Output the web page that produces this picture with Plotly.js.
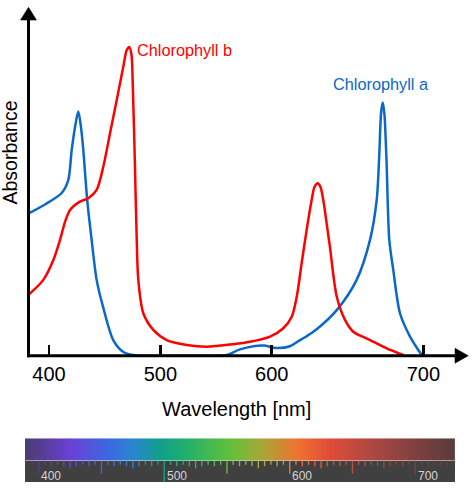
<!DOCTYPE html>
<html>
<head>
<meta charset="utf-8">
<script src="https://cdn.plot.ly/plotly-3.0.1.min.js"></script>
<style>html,body{margin:0;padding:0;background:#fff;}#chart{width:473px;height:488px;}</style>
</head>
<body>
<div id="chart"></div>
<script>
// ---- Data ----
// Chlorophyll a absorbance (wavelength in nm, relative absorbance)
var chlAWl = [381.6, 396.4, 411.4, 417.3, 420.4, 423.4, 426.3, 428.7, 430.8, 434.3, 438.3, 442.8, 448.5, 457.7, 466.5, 475.4, 490.7, 520, 545,
              559.6, 571.5, 585.0, 593.0, 604.5, 616.4, 624.0, 631.4, 640.4, 658.4, 676.3, 688.3, 694.3, 696.4, 698.3, 699.7, 701.3, 702.4, 703.3, 705.6, 709.2, 715.2, 724.2, 734.7];
var chlAAbs = [0.409, 0.435, 0.468, 0.505, 0.592, 0.658, 0.702, 0.658, 0.592, 0.448, 0.333, 0.218, 0.141, 0.045, 0.0115, 0.002, 0.0, 0.0, 0.0,
               0.002, 0.018, 0.028, 0.029, 0.022, 0.027, 0.042, 0.056, 0.076, 0.131, 0.218, 0.333, 0.448, 0.563, 0.701, 0.728, 0.692, 0.620, 0.544, 0.333, 0.246, 0.122, 0.055, 0.002];
// Chlorophyll b absorbance
var chlBWl = [381.6, 394.9, 403.9, 409.9, 414.4, 418.9, 427.8, 435.3, 442.8, 448.8, 454.8, 460.8, 466.7, 469.8, 472.1, 474.1, 475.2, 477.2, 478.8, 480.2, 484.7, 493.7, 505.7, 523.7, 541.6, 565.5, 580.5, 598.5, 610.4, 618.0, 622.5, 626.9, 631.4, 635.9, 638.4, 641.3, 643.8, 646.3, 650.8, 652.3, 658.4, 665.8, 673.3, 688.3, 703.3, 718.2];
var chlBAbs = [0.175, 0.218, 0.275, 0.333, 0.385, 0.419, 0.443, 0.453, 0.477, 0.544, 0.640, 0.735, 0.831, 0.879, 0.888, 0.865, 0.784, 0.544, 0.333, 0.218, 0.122, 0.074, 0.045, 0.031, 0.026, 0.033, 0.040, 0.055, 0.079, 0.112, 0.170, 0.266, 0.362, 0.448, 0.485, 0.496, 0.485, 0.448, 0.347, 0.313, 0.170, 0.103, 0.069, 0.045, 0.021, 0.002];

// Main axis tick labels (as printed in the picture) and where they sit on the axis
var axisTickText = ['400', '500', '600', '700'];
var axisTickVals = [400, 500, 600, 736.2];

// Visible spectrum strip
var specWl = [389, 425, 457, 475, 497, 518, 553, 579, 608, 632, 664, 701, 732];
var specColor = ['#4a3d6c', '#6a40d6', '#3a6ae0', '#2a85d2', '#10a08a', '#22b06a', '#62c03a', '#aaa636', '#f07030', '#e04c38', '#b04842', '#7e4040', '#5a3c3c'];
var stripLabels = ['400', '500', '600', '700'];
var stripLabelWl = [400, 500, 600, 700];

// ---- Build the figure ----
var RED = '#ff0000', BLUE = '#0a68c8';
var wlMin = 389.08, wlMax = 731.71;
var cs = specWl.map(function (w, i) { return [(w - specWl[0]) / (specWl[specWl.length - 1] - specWl[0]), specColor[i]]; });

// gradient strip sampling grid
var edges = [], centers = [];
for (var w = specWl[0]; w <= specWl[specWl.length - 1]; w += 1) edges.push(w);
for (var i = 0; i < edges.length - 1; i++) centers.push((edges[i] + edges[i + 1]) / 2);

// ruler ticks (every 5 nm)
var RULER_TOP = 0.487, PX = 1 / 43.7;
var rulerWl = [], rulerLen = [];
for (var t = 390; t <= 730; t += 5) {
  var L = t === 500 ? RULER_TOP : (t % 50 === 0 ? 13 * PX : (t % 25 === 0 ? 7.5 * PX : (t % 10 === 0 ? 5.5 * PX : 4 * PX)));
  rulerWl.push(t); rulerLen.push(-L);
}

var traces = [
  { type: 'scatter', mode: 'lines', x: chlAWl, y: chlAAbs, line: { color: BLUE, width: 2.5, shape: 'spline', smoothing: 0.8 }, hoverinfo: 'x+y', name: 'Chlorophyll a' },
  { type: 'scatter', mode: 'lines', x: chlBWl, y: chlBAbs, line: { color: RED, width: 2.5, shape: 'spline', smoothing: 0.8 }, hoverinfo: 'x+y', name: 'Chlorophyll b' },
  { type: 'heatmap', x: edges, y: [RULER_TOP, 1], z: [centers], colorscale: cs, zmin: specWl[0], zmax: specWl[specWl.length - 1], showscale: false, hoverinfo: 'skip', xaxis: 'x2', yaxis: 'y2' },
  { type: 'bar', x: rulerWl, y: rulerLen, base: RULER_TOP, width: 1.1, xaxis: 'x2', yaxis: 'y2', hoverinfo: 'skip',
    marker: { color: rulerWl, colorscale: cs, cmin: specWl[0], cmax: specWl[specWl.length - 1], opacity: 1, line: { width: 0 } } }
];

var FONT = 'Liberation Sans, Arial, Helvetica, sans-serif';
var annotations = [
  { text: 'Absorbance', xref: 'paper', yref: 'paper', x: -0.0339, y: 0.6951, textangle: -90, showarrow: false, xanchor: 'center', yanchor: 'middle', font: { size: 19.5, color: '#000', family: FONT } },
  { text: 'Wavelength [nm]', xref: 'paper', yref: 'paper', x: 0.4763, y: 0.1532, showarrow: false, xanchor: 'center', yanchor: 'middle', font: { size: 20, color: '#000', family: FONT } },
  { text: 'Chlorophyll b', xref: 'paper', yref: 'paper', x: 0.3605, y: 0.9105, showarrow: false, xanchor: 'center', yanchor: 'middle', font: { size: 16.3, color: RED, family: FONT } },
  { text: 'Chlorophyll a', xref: 'paper', yref: 'paper', x: 0.8036, y: 0.8403, showarrow: false, xanchor: 'center', yanchor: 'middle', font: { size: 16.3, color: BLUE, family: FONT } }
];
stripLabels.forEach(function (s, i) {
  annotations.push({ text: s, xref: 'x2', yref: 'y2', x: stripLabelWl[i], y: 0.126, xshift: 0.5, showarrow: false, xanchor: 'left', yanchor: 'middle', font: { size: 12, color: '#d4d4d4', family: FONT } });
});

var shapes = [
  { type: 'rect', xref: 'x2', yref: 'y2', x0: wlMin, x1: wlMax, y0: 0, y1: RULER_TOP, fillcolor: '#404040', line: { width: 0 }, layer: 'below' },
  // x axis line and arrow
  { type: 'line', xref: 'paper', yref: 'paper', x0: 0.0045, x1: 0.9729, y0: 0.26646, y1: 0.26646, line: { color: '#000', width: 3 } },
  { type: 'path', xref: 'paper', yref: 'paper', path: 'M 0.97065 0.28228 L 1.0007 0.26646 L 0.97065 0.25063 Z', fillcolor: '#000', line: { color: '#000', width: 0.5 } },
  // y axis line and arrow
  { type: 'line', xref: 'paper', yref: 'paper', x0: 0.0079, x1: 0.0079, y0: 0.2633, y1: 0.9760, line: { color: '#000', width: 3 } },
  { type: 'path', xref: 'paper', yref: 'paper', path: 'M -0.01016 0.97447 L 0.0079 1.0015 L 0.02596 0.97447 Z', fillcolor: '#000', line: { color: '#000', width: 0.5 } }
];

var layout = {
  width: 473, height: 488,
  margin: { l: 25, r: 5, t: 8, b: 6 },
  paper_bgcolor: '#fff', plot_bgcolor: '#fff',
  showlegend: false,
  font: { family: FONT },
  xaxis: { domain: [0, 1], range: [378.45, 776.29], anchor: 'y', tickvals: axisTickVals, ticktext: axisTickText,
           ticks: 'inside', ticklen: 11, tickwidth: 2.5, tickcolor: '#000', showgrid: false, zeroline: false, showline: false,
           ticklabelstandoff: 4,
           tickfont: { size: 20, color: '#000', family: FONT }, fixedrange: true },
  yaxis: { domain: [0.2665, 1], range: [0, 1], visible: false, fixedrange: true },
  xaxis2: { domain: [0, 0.97065], range: [wlMin, wlMax], anchor: 'y2', visible: false, fixedrange: true },
  yaxis2: { domain: [0, 0.0922], range: [0, 1], visible: false, fixedrange: true },
  annotations: annotations,
  shapes: shapes
};

Plotly.newPlot('chart', traces, layout, { staticPlot: true, displayModeBar: false });
</script>
</body>
</html>
